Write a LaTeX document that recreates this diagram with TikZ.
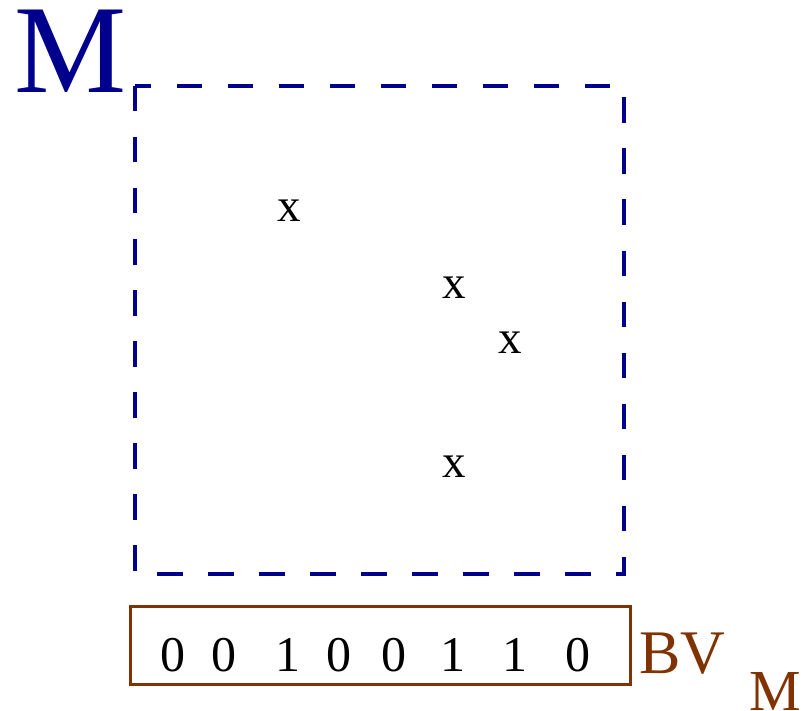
\documentclass[tikz,border=0pt]{standalone}
\usepackage{fontspec}
\setmainfont{Liberation Serif}
\definecolor{navyM}{RGB}{0,0,140}
\definecolor{brownBV}{RGB}{128,50,0}
\begin{document}
\begin{tikzpicture}[x=1pt,y=-1pt,
  pt/.style={inner sep=0pt,anchor=base,font=\fontsize{47}{47}\selectfont},
  bit/.style={inner sep=0pt,anchor=base,font=\fontsize{50}{50}\selectfont},
  bvtxt/.style={inner sep=0pt,text=brownBV,font=\fontsize{62}{62}\selectfont}]
\useasboundingbox (0,0) rectangle (805,711);
\draw[navyM,line width=4pt,dash pattern=on 25.5pt off 25.5pt]
  (135,86) -- (135,574) -- (624,574) -- (624,86) -- cycle;
\node[inner sep=0pt,anchor=base west,text=navyM,text height=84pt,text depth=0pt,
  font=\fontsize{126}{126}\selectfont] (mlab) at (14,93) {M};
\node[pt] (p1) at (289,222) {x};
\node[pt] (p2) at (454,298) {x};
\node[pt] (p3) at (510,353) {x};
\node[pt] (p4) at (454,477) {x};
\draw[brownBV,line width=3pt] (130,606) rectangle (630,684);
\node[bit] (b1) at (173,671) {0};
\node[bit] (b2) at (224,671) {0};
\node[bit] (b3) at (288,671) {1};
\node[bit] (b4) at (339,671) {0};
\node[bit] (b5) at (394,671) {0};
\node[bit] (b6) at (453,671) {1};
\node[bit] (b7) at (515,671) {1};
\node[bit] (b8) at (578,671) {0};
\node[bvtxt,anchor=base west] (bv) at (639,673) {BV};
\node[bvtxt,anchor=base west,text height=39pt,text depth=0pt,
  font=\fontsize{58}{58}\selectfont] (bvsub) at (749,710) {M};
\end{tikzpicture}
\end{document}
